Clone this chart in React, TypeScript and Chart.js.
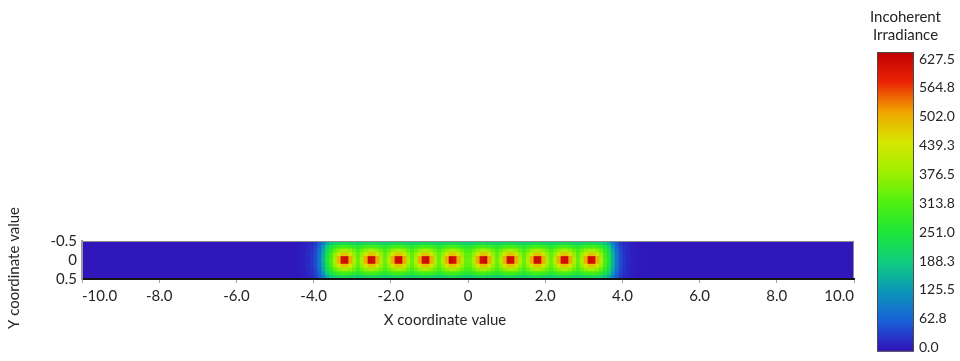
import React, { useEffect, useRef } from 'react';
import { Chart, registerables } from 'chart.js';

Chart.register(...registerables);

// ---------- data ----------
const xTickValues = [-10, -8, -6, -4, -2, 0, 2, 4, 6, 8, 10];
const xTickLabels = ['-10.0', '-8.0', '-6.0', '-4.0', '-2.0', '0', '2.0', '4.0', '6.0', '8.0', '10.0'];
const yTickValues = [-0.5, 0, 0.5];
const yTickLabels = ['-0.5', '0', '0.5'];
const xTitle = 'X coordinate value';
const yTitle = 'Y coordinate value';

const cbTitle = ['Incoherent', 'Irradiance'];
const cbMax = 627.5;
const cbTickValues = [0, 62.75, 125.5, 188.25, 251, 313.75, 376.5, 439.25, 502, 564.75, 627.5];
const cbTickLabels = ['0.0', '62.8', '125.5', '188.3', '251.0', '313.8', '376.5', '439.3', '502.0', '564.8', '627.5'];

const cmapStops = [0, 0.1, 0.2, 0.3, 0.4, 0.5, 0.6, 0.7, 0.8, 0.9, 1];
const cmapColors = [
  [50, 15, 185], [25, 95, 215], [10, 150, 185], [15, 205, 125], [30, 230, 55],
  [80, 240, 15], [160, 240, 0], [215, 230, 0], [240, 165, 0], [235, 35, 5], [190, 0, 0],
];

// Heat map grid: cells of 0.1 x 0.1, columns from x = -4.5 to 4.5, rows from y = -0.5 to 0.5
const heatX0 = -4.5;
const heatY0 = -0.5;
const cellSize = 0.1;
const backgroundValue = 6;

const rowCore = [9, 11, 14, 20, 30, 50, 90, 160, 250, 305, 385, 488,
  602, 606, 492, 392, 332, 392, 492,
  608, 600, 492, 392, 332, 392, 492,
  604, 610, 492, 392, 332, 392, 492,
  600, 606, 492, 392, 332, 392, 492,
  612, 598, 492, 392, 332, 332, 392, 492,
  598, 612, 492, 392, 332, 392, 492,
  606, 600, 492, 392, 332, 392, 492,
  610, 604, 492, 392, 332, 392, 492,
  600, 608, 492, 392, 332, 392, 492,
  606, 602, 488, 385, 305, 250, 160, 90, 50, 30, 20, 14, 11, 9];

const rowInner = [9, 11, 14, 20, 29, 48, 88, 155, 240, 295, 365, 428,
  472, 472, 432, 372, 322, 372, 432,
  472, 472, 432, 372, 322, 372, 432,
  472, 472, 432, 372, 322, 372, 432,
  472, 472, 432, 372, 322, 372, 432,
  472, 472, 432, 372, 322, 322, 372, 432,
  472, 472, 432, 372, 322, 372, 432,
  472, 472, 432, 372, 322, 372, 432,
  472, 472, 432, 372, 322, 372, 432,
  472, 472, 432, 372, 322, 372, 432,
  472, 472, 428, 365, 295, 240, 155, 88, 48, 29, 20, 14, 11, 9];

const rowMid = [8, 10, 13, 19, 27, 45, 82, 145, 220, 272, 325, 358,
  380, 380, 362, 332, 302, 332, 362,
  380, 380, 362, 332, 302, 332, 362,
  380, 380, 362, 332, 302, 332, 362,
  380, 380, 362, 332, 302, 332, 362,
  380, 380, 362, 332, 302, 302, 332, 362,
  380, 380, 362, 332, 302, 332, 362,
  380, 380, 362, 332, 302, 332, 362,
  380, 380, 362, 332, 302, 332, 362,
  380, 380, 362, 332, 302, 332, 362,
  380, 380, 358, 325, 272, 220, 145, 82, 45, 27, 19, 13, 10, 8];

const rowOuter = [8, 9, 12, 17, 24, 40, 72, 125, 190, 235, 268, 288,
  300, 300, 292, 276, 262, 276, 292,
  300, 300, 292, 276, 262, 276, 292,
  300, 300, 292, 276, 262, 276, 292,
  300, 300, 292, 276, 262, 276, 292,
  300, 300, 292, 276, 262, 262, 276, 292,
  300, 300, 292, 276, 262, 276, 292,
  300, 300, 292, 276, 262, 276, 292,
  300, 300, 292, 276, 262, 276, 292,
  300, 300, 292, 276, 262, 276, 292,
  300, 300, 288, 268, 235, 190, 125, 72, 40, 24, 17, 12, 9, 8];

const rowEdge = [7, 8, 11, 15, 21, 34, 60, 100, 150, 180, 198, 210,
  218, 218, 214, 205, 196, 205, 214,
  218, 218, 214, 205, 196, 205, 214,
  218, 218, 214, 205, 196, 205, 214,
  218, 218, 214, 205, 196, 205, 214,
  218, 218, 214, 205, 196, 196, 205, 214,
  218, 218, 214, 205, 196, 205, 214,
  218, 218, 214, 205, 196, 205, 214,
  218, 218, 214, 205, 196, 205, 214,
  218, 218, 214, 205, 196, 205, 214,
  218, 218, 210, 198, 180, 150, 100, 60, 34, 21, 15, 11, 8, 7];

// rows from y = -0.5 (top) to y = 0.5 (bottom)
const heatRows = [rowEdge, rowOuter, rowMid, rowInner, rowCore, rowCore, rowInner, rowMid, rowOuter, rowEdge];

// ---------- helpers ----------
const FONT = 'Lato';
const TEXT = '#262626';

function colorAt(v: number): string {
  const t = Math.max(0, Math.min(1, v / cbMax));
  for (let i = 1; i < cmapStops.length; i++) {
    if (t <= cmapStops[i]) {
      const f = (t - cmapStops[i - 1]) / (cmapStops[i] - cmapStops[i - 1]);
      const a = cmapColors[i - 1];
      const b = cmapColors[i];
      const r = Math.round(a[0] + (b[0] - a[0]) * f);
      const g = Math.round(a[1] + (b[1] - a[1]) * f);
      const bl = Math.round(a[2] + (b[2] - a[2]) * f);
      return `rgb(${r},${g},${bl})`;
    }
  }
  const c = cmapColors[cmapColors.length - 1];
  return `rgb(${c[0]},${c[1]},${c[2]})`;
}

type Cell = { x: number; y: number; v: number };

function buildCells(): Cell[] {
  const cells: Cell[] = [];
  heatRows.forEach((row, r) => {
    row.forEach((v, c) => {
      cells.push({ x: heatX0 + (c + 0.5) * cellSize, y: heatY0 + (r + 0.5) * cellSize, v });
    });
  });
  return cells;
}

const heatmapPlugin = {
  id: 'heatmapCells',
  beforeDatasetsDraw(chart: any) {
    const { ctx, chartArea: a, scales } = chart;
    const xs = scales.x;
    const ys = scales.y;
    ctx.save();
    ctx.beginPath();
    ctx.rect(a.left, a.top, a.right - a.left, a.bottom - a.top);
    ctx.clip();
    ctx.fillStyle = colorAt(backgroundValue);
    ctx.fillRect(a.left, a.top, a.right - a.left, a.bottom - a.top);
    const pts: Cell[] = chart.data.datasets[0].data;
    for (const p of pts) {
      const x0 = xs.getPixelForValue(p.x - cellSize / 2);
      const x1 = xs.getPixelForValue(p.x + cellSize / 2);
      const y0 = ys.getPixelForValue(p.y - cellSize / 2);
      const y1 = ys.getPixelForValue(p.y + cellSize / 2);
      ctx.fillStyle = colorAt(p.v);
      ctx.fillRect(Math.min(x0, x1), Math.min(y0, y1), Math.abs(x1 - x0) + 0.6, Math.abs(y1 - y0) + 0.6);
    }
    ctx.restore();
  },
  afterDatasetsDraw(chart: any) {
    const { ctx, chartArea: a } = chart;
    ctx.save();
    ctx.strokeStyle = '#8c8c8c';
    ctx.lineWidth = 1;
    ctx.beginPath();
    ctx.moveTo(a.left, a.top + 0.5);
    ctx.lineTo(a.right - 0.5, a.top + 0.5);
    ctx.lineTo(a.right - 0.5, a.bottom);
    ctx.stroke();
    ctx.restore();
  },
};

const axisTitlesPlugin = {
  id: 'axisTitles',
  afterDraw(chart: any) {
    const { ctx, chartArea: a } = chart;
    ctx.save();
    ctx.font = `15px ${FONT}`;
    ctx.fillStyle = TEXT;
    ctx.textAlign = 'center';
    ctx.textBaseline = 'middle';
    ctx.fillText(xTitle, (a.left + a.right) / 2 - 23, a.bottom + 41);
    ctx.translate(14, (a.top + a.bottom) / 2 + 8);
    ctx.rotate(-Math.PI / 2);
    ctx.fillText(yTitle, 0, 0);
    ctx.restore();
  },
};

const colorbarPlugin = {
  id: 'colorbarFill',
  beforeDatasetsDraw(chart: any) {
    const { ctx, chartArea: a } = chart;
    const top = a.top - 7;
    const bottom = a.bottom + 4;
    const grad = ctx.createLinearGradient(0, bottom, 0, top);
    cmapStops.forEach((s, i) => {
      const c = cmapColors[i];
      grad.addColorStop(s, `rgb(${c[0]},${c[1]},${c[2]})`);
    });
    ctx.save();
    ctx.fillStyle = grad;
    ctx.fillRect(a.left, top, a.right - a.left, bottom - top);
    ctx.strokeStyle = '#4a4a4a';
    ctx.lineWidth = 1;
    ctx.strokeRect(a.left + 0.5, top + 0.5, a.right - a.left - 1, bottom - top - 1);
    ctx.font = `15px ${FONT}`;
    ctx.fillStyle = TEXT;
    ctx.textAlign = 'center';
    ctx.textBaseline = 'middle';
    const cx = (a.left + a.right) / 2 + 10;
    cbTitle.forEach((line, i) => ctx.fillText(line, cx, 17 + i * 18));
    ctx.restore();
  },
};

export default function App() {
  const mainRef = useRef<HTMLCanvasElement>(null);
  const barRef = useRef<HTMLCanvasElement>(null);

  useEffect(() => {
    Chart.defaults.font.family = FONT;
    const main = new Chart(mainRef.current as HTMLCanvasElement, {
      type: 'scatter',
      data: {
        datasets: [{ data: buildCells() as any, pointRadius: 0, pointHoverRadius: 0, showLine: false }],
      },
      options: {
        responsive: false,
        animation: false,
        events: [],
        layout: { padding: { top: 241, right: 16, bottom: 0, left: 0 } },
        plugins: { legend: { display: false }, tooltip: { enabled: false } },
        scales: {
          x: {
            type: 'linear',
            min: -10,
            max: 10,
            afterBuildTicks: (s: any) => { s.ticks = xTickValues.map((v) => ({ value: v })); },
            afterFit: (s: any) => { s.height = 82; },
            ticks: {
              callback: (_v: any, i: number) => xTickLabels[i],
              font: { size: 15, family: FONT },
              color: TEXT,
              padding: 4,
              maxRotation: 0,
              autoSkip: false,
              align: 'inner',
            },
            grid: { drawOnChartArea: false, drawTicks: true, tickLength: 4, color: '#a0a0a0', z: 1 },
            border: { display: true, color: '#141414', width: 2, z: 1 },
          },
          y: {
            type: 'linear',
            min: -0.5,
            max: 0.5,
            reverse: true,
            afterBuildTicks: (s: any) => { s.ticks = yTickValues.map((v) => ({ value: v })); },
            afterFit: (s: any) => { s.width = 82; },
            ticks: {
              callback: (_v: any, i: number) => yTickLabels[i],
              font: { size: 15, family: FONT },
              color: TEXT,
              padding: 5,
              autoSkip: false,
            },
            grid: { display: false, drawTicks: false },
            border: { display: true, color: '#9a9a9a', width: 2, z: 1 },
          },
        },
      } as any,
      plugins: [heatmapPlugin, axisTitlesPlugin],
    });

    const bar = new Chart(barRef.current as HTMLCanvasElement, {
      type: 'scatter',
      data: { datasets: [{ data: [], pointRadius: 0 }] },
      options: {
        responsive: false,
        animation: false,
        events: [],
        layout: { padding: { top: 59, bottom: 11, left: 17, right: 0 } },
        plugins: { legend: { display: false }, tooltip: { enabled: false } },
        scales: {
          x: { display: false, min: 0, max: 1 },
          y: {
            position: 'right',
            min: 0,
            max: cbMax,
            afterBuildTicks: (s: any) => { s.ticks = cbTickValues.map((v) => ({ value: v })); },
            afterFit: (s: any) => { s.width = 46; },
            ticks: {
              callback: (_v: any, i: number) => cbTickLabels[i],
              font: { size: 14, family: FONT },
              color: TEXT,
              padding: 5,
              autoSkip: false,
            },
            grid: { display: false, drawTicks: false },
            border: { display: false },
          },
        },
      } as any,
      plugins: [colorbarPlugin],
    });

    return () => {
      main.destroy();
      bar.destroy();
    };
  }, []);

  return (
    <div style={{ position: 'absolute', left: 0, top: 0, width: 960, height: 361, background: '#fff', overflow: 'hidden' }}>
      <canvas ref={mainRef} width={870} height={361} style={{ position: 'absolute', left: 0, top: 0 }} />
      <canvas ref={barRef} width={100} height={361} style={{ position: 'absolute', left: 860, top: 0 }} />
    </div>
  );
}
